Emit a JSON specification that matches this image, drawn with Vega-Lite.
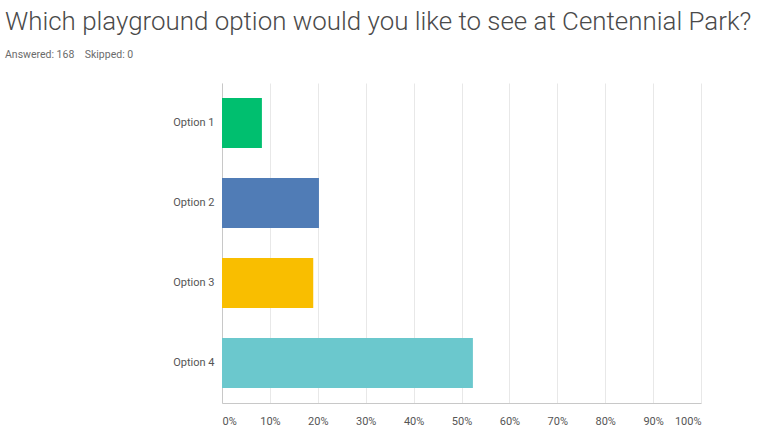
{
  "$schema": "https://vega.github.io/schema/vega-lite/v6.json",
  "width": 479,
  "height": 320,
  "autosize": {"type": "none"},
  "padding": {"left": 222, "top": 83, "right": 64, "bottom": 39},
  "background": "white",
  "title": {
    "text": "Which playground option would you like to see at Centennial Park?",
    "subtitle": "Answered: 168\u00a0\u00a0\u00a0\u00a0Skipped: 0",
    "anchor": "start",
    "frame": "group",
    "dx": -217,
    "offset": 22,
    "font": "Roboto",
    "fontSize": 25.9,
    "fontWeight": 300,
    "color": "#4a4a4a",
    "subtitleFont": "Roboto",
    "subtitleFontSize": 10.5,
    "subtitleColor": "#6b6b6b",
    "subtitlePadding": 14
  },
  "data": {
    "values": [
      {"option": "Option 1", "pct": 0.0833},
      {"option": "Option 2", "pct": 0.2024},
      {"option": "Option 3", "pct": 0.1905},
      {"option": "Option 4", "pct": 0.5238}
    ]
  },
  "mark": {"type": "bar"},
  "encoding": {
    "y": {
      "field": "option",
      "type": "nominal",
      "sort": null,
      "scale": {"paddingInner": 0.375, "paddingOuter": 0.1875},
      "axis": {
        "title": null,
        "ticks": false,
        "domain": true,
        "domainColor": "#c8c8c8",
        "labelFont": "Roboto",
        "labelFontSize": 11,
        "labelColor": "#555555",
        "labelPadding": 8,
        "grid": false
      }
    },
    "x": {
      "field": "pct",
      "type": "quantitative",
      "scale": {"domain": [0, 1], "nice": false},
      "axis": {
        "title": null,
        "format": ".0%",
        "values": [0, 0.1, 0.2, 0.3, 0.4, 0.5, 0.6, 0.7, 0.8, 0.9, 1],
        "ticks": false,
        "grid": true,
        "gridColor": "#e8e8e8",
        "domainColor": "#c8c8c8",
        "labelFont": "Roboto",
        "labelFontSize": 11,
        "labelColor": "#555555",
        "labelPadding": 12,
        "labelFlush": true
      }
    },
    "color": {
      "field": "option",
      "type": "nominal",
      "scale": {
        "domain": ["Option 1", "Option 2", "Option 3", "Option 4"],
        "range": ["#00BF6F", "#507CB6", "#F9BE00", "#6BC8CD"]
      },
      "legend": null
    }
  },
  "config": {"view": {"stroke": null}}
}
